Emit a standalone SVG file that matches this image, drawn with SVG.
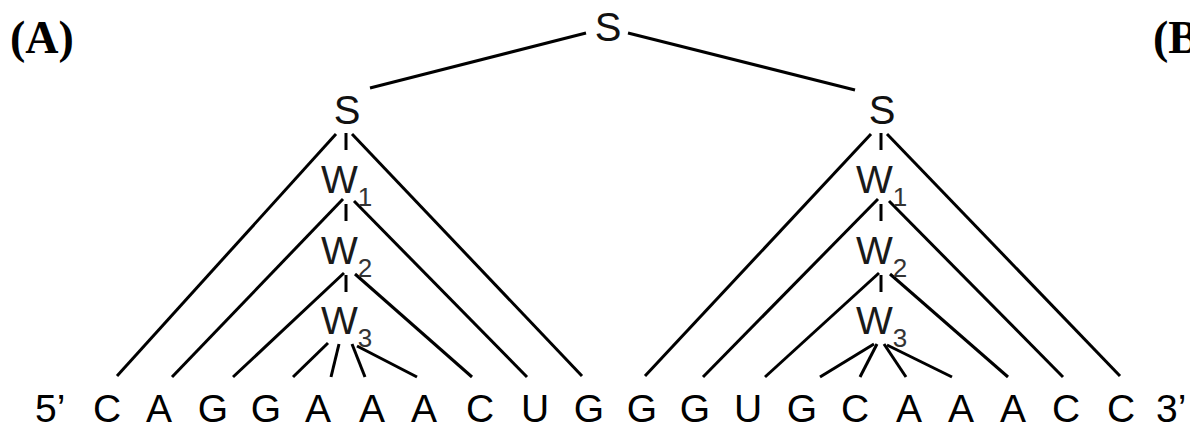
<svg xmlns="http://www.w3.org/2000/svg" width="1190" height="429" viewBox="0 0 1190 429">
<style>
.lbl{font-family:"Liberation Serif","Times New Roman",serif;font-weight:bold;font-size:46px;fill:#000}
.n{font-family:"Liberation Sans",Arial,sans-serif;font-size:40px;fill:#111;text-anchor:middle}
.w{font-family:"Liberation Sans",Arial,sans-serif;font-size:39px;fill:#1a1a1a}
.sub{font-size:26px;fill:#333}
.b{font-family:"Liberation Sans",Arial,sans-serif;font-size:39px;fill:#000;text-anchor:middle}
.e{stroke:#000;stroke-width:3;fill:none;stroke-linecap:butt}
</style>
<rect width="1190" height="429" fill="#fff"/>
<text class="lbl" x="10" y="53">(A)</text>
<text class="lbl" x="1153" y="53">(B</text>

<g id="connectors" class="e">
<line x1="370" y1="88" x2="586" y2="33"/>
<line x1="628" y1="33" x2="855" y2="90"/>
<!-- left tree -->
<line x1="346" y1="133" x2="346" y2="150"/>
<line x1="336" y1="134" x2="117" y2="376"/>
<line x1="352" y1="134" x2="582" y2="376"/>
<line x1="346" y1="204" x2="346" y2="221"/>
<line x1="343" y1="199" x2="172" y2="377"/>
<line x1="354" y1="201" x2="527" y2="377"/>
<line x1="346" y1="275" x2="346" y2="292"/>
<line x1="344" y1="273" x2="233" y2="377"/>
<line x1="355" y1="274" x2="472" y2="377"/>
<line x1="328" y1="343" x2="293" y2="377"/>
<line x1="339" y1="344" x2="331" y2="377"/>
<line x1="352" y1="344" x2="365" y2="377"/>
<line x1="357" y1="346" x2="417" y2="377"/>
<!-- right tree -->
<line x1="881" y1="133" x2="881" y2="150"/>
<line x1="871" y1="134" x2="645" y2="376"/>
<line x1="887" y1="134" x2="1120" y2="376"/>
<line x1="881" y1="204" x2="881" y2="221"/>
<line x1="878" y1="199" x2="703" y2="377"/>
<line x1="889" y1="201" x2="1063" y2="377"/>
<line x1="881" y1="275" x2="881" y2="292"/>
<line x1="879" y1="273" x2="765" y2="377"/>
<line x1="890" y1="274" x2="1008" y2="377"/>
<line x1="874" y1="344" x2="820" y2="377"/>
<line x1="877" y1="344" x2="860" y2="377"/>
<line x1="884" y1="344" x2="906" y2="377"/>
<line x1="887" y1="345" x2="952" y2="377"/>
</g>

<g id="root"><text class="n" x="608" y="41">S</text></g>
<g id="S-left"><text class="n" x="347" y="124">S</text></g>
<g id="W1-left"><text class="w" x="321" y="193">W<tspan class="sub" dy="13">1</tspan></text></g>
<g id="W2-left"><text class="w" x="321" y="264">W<tspan class="sub" dy="13">2</tspan></text></g>
<g id="W3-left"><text class="w" x="321" y="334">W<tspan class="sub" dy="13">3</tspan></text></g>
<g id="S-right"><text class="n" x="882" y="124">S</text></g>
<g id="W1-right"><text class="w" x="856" y="193">W<tspan class="sub" dy="13">1</tspan></text></g>
<g id="W2-right"><text class="w" x="856" y="264">W<tspan class="sub" dy="13">2</tspan></text></g>
<g id="W3-right"><text class="w" x="856" y="334">W<tspan class="sub" dy="13">3</tspan></text></g>

<g id="sequence">
<text class="b" x="35" y="422" style="text-anchor:start">5’</text>
<text class="b" x="107" y="422">C</text>
<text class="b" x="159" y="422">A</text>
<text class="b" x="213" y="422">G</text>
<text class="b" x="266" y="422">G</text>
<text class="b" x="318" y="422">A</text>
<text class="b" x="372" y="422">A</text>
<text class="b" x="424" y="422">A</text>
<text class="b" x="480" y="422">C</text>
<text class="b" x="535" y="422">U</text>
<text class="b" x="589" y="422">G</text>
<text class="b" x="642" y="422">G</text>
<text class="b" x="695" y="422">G</text>
<text class="b" x="748" y="422">U</text>
<text class="b" x="802" y="422">G</text>
<text class="b" x="855" y="422">C</text>
<text class="b" x="909" y="422">A</text>
<text class="b" x="961" y="422">A</text>
<text class="b" x="1013" y="422">A</text>
<text class="b" x="1066" y="422">C</text>
<text class="b" x="1121" y="422">C</text>
<text class="b" x="1156" y="422" style="text-anchor:start">3’</text>
</g>
</svg>
